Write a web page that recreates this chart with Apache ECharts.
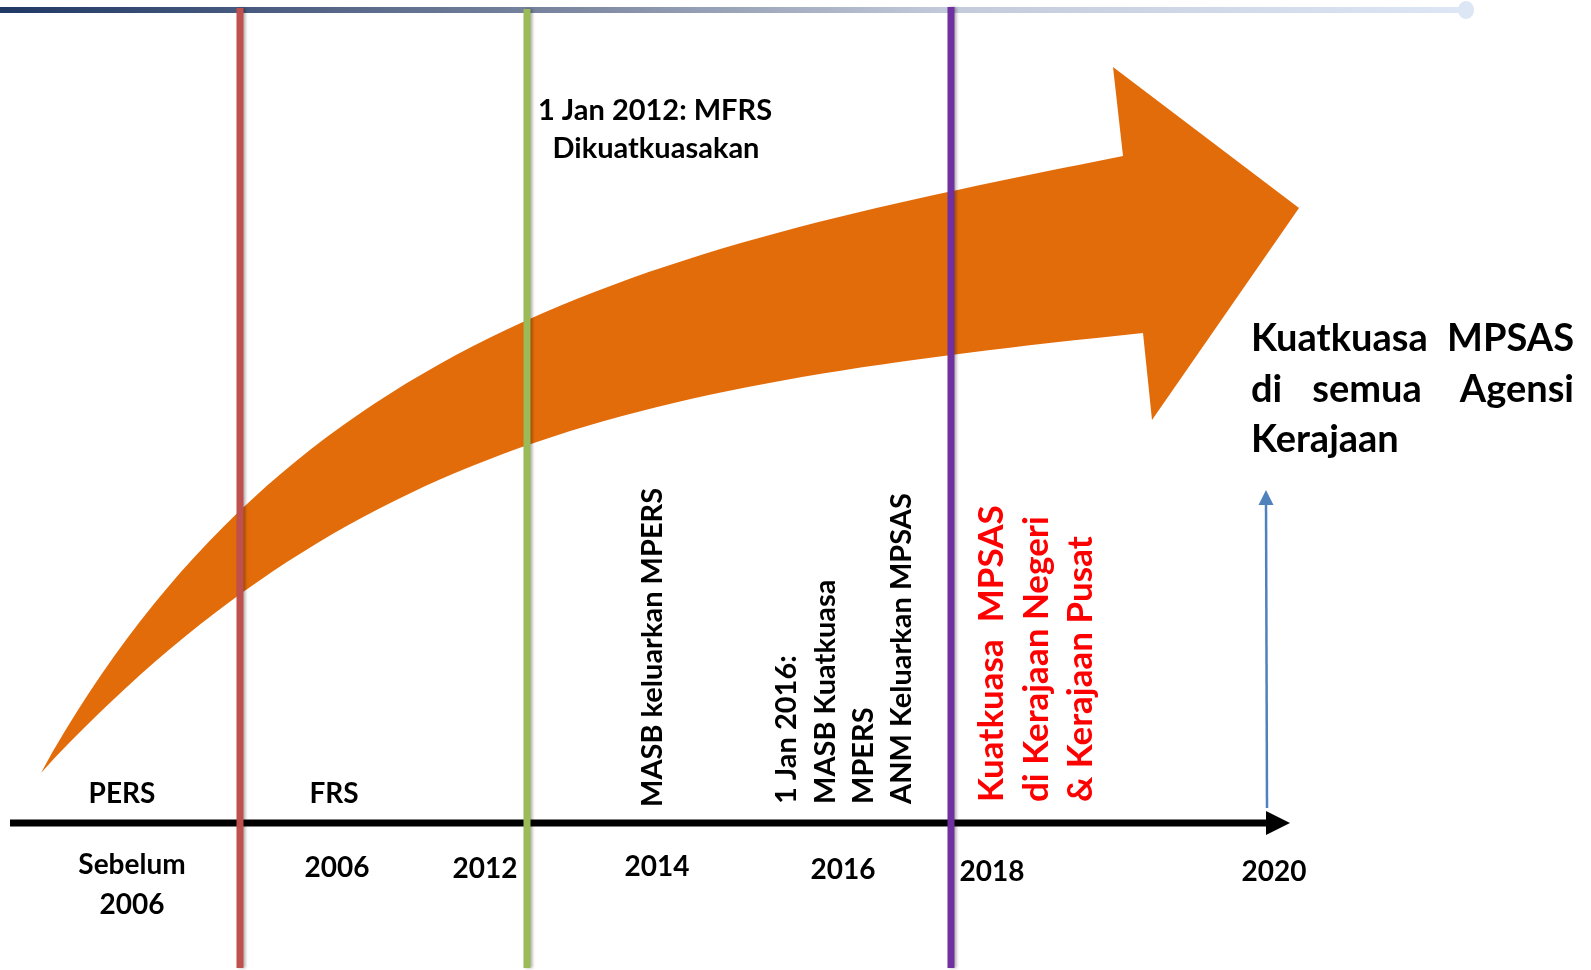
<!DOCTYPE html>
<html>
<head>
<meta charset="utf-8">
<title>Garis masa MPSAS</title>
<script src="https://cdn.jsdelivr.net/npm/echarts@6/dist/echarts.min.js"></script>
<style>
  html, body { margin: 0; padding: 0; background: #fff; }
  #chart { width: 1591px; height: 970px; }
</style>
</head>
<body>
<div id="chart"></div>
<script>
// hidden axes: x = position along the timeline, y = depth from the top edge
const yearLabels = ['Sebelum\n2006', '2006', '2012', '2014', '2016', '2018', '2020']
const yearX = [132, 337, 485, 657, 843, 992, 1274]
const yearY = [885, 868, 869, 867, 870, 872, 872]

const standardLabels = ['PERS', 'FRS']
const standardX = [122, 334]
const standardY = [794, 794]

// era dividers (PERS | FRS, MFRS, MPSAS)
const dividerX = [240, 527, 951]
const dividerTop = [8, 9, 7]
const dividerBottom = [968, 968, 968]
const dividerColors = ['#c0504d', '#9bbb59', '#7030a0']

// time axis arrow
const axisX = [10, 1290]
const axisY = [823, 823]

// target arrow (blue)
const targetX = [1267, 1266]
const targetY = [808, 490]

// orange growth arrow: each edge is one cubic curve (start, handle, handle, end)
const arrowUpperX = [41, 291, 673, 1123]
const arrowUpperY = [773, 323, 246, 156]
const arrowHeadX = [1113, 1299, 1152]
const arrowHeadY = [67, 208, 420]
const arrowLowerX = [1143, 643, 351, 41]
const arrowLowerY = [333, 385, 440, 773]

// events written upright along the timeline
const eventLines = ['MASB keluarkan MPERS', '1 Jan 2016:', 'MASB Kuatkuasa', 'MPERS', 'ANM Keluarkan MPSAS']
const eventX = [653, 787, 826, 864, 902]
const eventY = [807, 804, 804, 804, 804]

const mpsasLines = ['Kuatkuasa  MPSAS', 'di Kerajaan Negeri', '& Kerajaan Pusat']
const mpsasX = [992, 1037, 1081]
const mpsasY = [802, 802, 802]

const mfrsLines = ['1 Jan 2012: MFRS', 'Dikuatkuasakan']
const mfrsX = [655, 656]
const mfrsY = [111, 149]

const goalWords = ['Kuatkuasa', 'MPSAS', 'di', 'semua', 'Agensi', 'Kerajaan']
const goalX = [1251, 1574, 1251, 1367, 1574, 1251]
const goalY = [339, 339, 390, 390, 390, 440]
const goalAlign = ['left', 'right', 'left', 'center', 'right', 'left']

const FONT = 'Lato, "Open Sans", sans-serif'
const chart = echarts.init(document.getElementById('chart'))

function pts (xs, ys, api) {
    return xs.map((x, i) => api.coord([x, ys[i]]))
}

function cubic (p) {
    return ` C ${p[1][0]} ${p[1][1]} ${p[2][0]} ${p[2][1]} ${p[3][0]} ${p[3][1]}`
}

function textSeries (texts, xs, ys, opt) {
    return {
        type: 'custom',
        silent: true,
        z: 20,
        data: xs.map((x, i) => [x, ys[i]]),
        renderItem: (params, api) => {
            const p = api.coord([api.value(0), api.value(1)])
            const i = params.dataIndex
            return {
                type: 'text',
                x: p[0],
                y: p[1],
                rotation: opt.rotate ? Math.PI / 2 : 0,
                style: {
                    text: texts[i],
                    font: `bold ${opt.size}px ${FONT}`,
                    fill: opt.color || '#000',
                    align: opt.align ? (Array.isArray(opt.align) ? opt.align[i] : opt.align) : 'center',
                    verticalAlign: 'middle',
                    lineHeight: opt.lineHeight
                }
            }
        }
    }
}

const option = {
    animation: false,
    backgroundColor: '#fff',
    grid: { left: 0, right: 0, top: 0, bottom: 0 },
    xAxis: { type: 'value', min: 0, max: 1591, show: false },
    yAxis: { type: 'value', min: 0, max: 970, inverse: true, show: false },
    series: [
        // top gradient bar
        {
            type: 'custom',
            silent: true,
            z: 1,
            data: [[0, 10]],
            renderItem: (params, api) => {
                const a = api.coord([0, 7])
                const b = api.coord([1462, 13])
                const c = api.coord([1466, 10])
                return {
                    type: 'group',
                    children: [
                        {
                            type: 'rect',
                            shape: { x: a[0], y: a[1], width: b[0] - a[0], height: b[1] - a[1] },
                            style: {
                                fill: new echarts.graphic.LinearGradient(0, 0, 1, 0, [
                                    { offset: 0, color: '#1f3864' },
                                    { offset: 0.4, color: '#7f8aa3' },
                                    { offset: 0.65, color: '#c3cbdb' },
                                    { offset: 1, color: '#dde6f4' }
                                ])
                            }
                        },
                        { type: 'ellipse', shape: { cx: c[0], cy: c[1], rx: 8, ry: 9 }, style: { fill: '#dde6f4' } }
                    ]
                }
            }
        },
        // orange arrow
        {
            type: 'custom',
            silent: true,
            z: 2,
            data: [[arrowHeadX[1], arrowHeadY[1]]],
            renderItem: (params, api) => {
                const up = pts(arrowUpperX, arrowUpperY, api)
                const head = pts(arrowHeadX, arrowHeadY, api)
                const low = pts(arrowLowerX, arrowLowerY, api)
                let d = `M ${up[0][0]} ${up[0][1]}` + cubic(up)
                head.forEach(h => { d += ` L ${h[0]} ${h[1]}` })
                d += ` L ${low[0][0]} ${low[0][1]}` + cubic(low) + ' Z'
                return { type: 'path', shape: { pathData: d }, style: { fill: '#e36c0a' } }
            }
        },
        // time axis
        {
            type: 'custom',
            silent: true,
            z: 3,
            data: [[axisX[1], axisY[1]]],
            renderItem: (params, api) => {
                const a = api.coord([axisX[0], axisY[0]])
                const b = api.coord([axisX[1], axisY[1]])
                return {
                    type: 'group',
                    children: [
                        { type: 'line', shape: { x1: a[0], y1: a[1], x2: b[0] - 22, y2: b[1] }, style: { stroke: '#000', lineWidth: 7 } },
                        { type: 'polygon', shape: { points: [[b[0] - 24, b[1] - 12], [b[0], b[1]], [b[0] - 24, b[1] + 12]] }, style: { fill: '#000' } }
                    ]
                }
            }
        },
        // target arrow
        {
            type: 'custom',
            silent: true,
            z: 3,
            data: [[targetX[1], targetY[1]]],
            renderItem: (params, api) => {
                const a = api.coord([targetX[0], targetY[0]])
                const b = api.coord([targetX[1], targetY[1]])
                return {
                    type: 'group',
                    children: [
                        { type: 'line', shape: { x1: a[0], y1: a[1], x2: b[0], y2: b[1] + 12 }, style: { stroke: '#4f81bd', lineWidth: 2.5 } },
                        { type: 'polygon', shape: { points: [[b[0] - 7.5, b[1] + 15], [b[0], b[1]], [b[0] + 7.5, b[1] + 15]] }, style: { fill: '#4f81bd' } }
                    ]
                }
            }
        },
        // era dividers
        {
            type: 'custom',
            silent: true,
            z: 5,
            data: dividerX.map((x, i) => [x, dividerTop[i], dividerBottom[i]]),
            renderItem: (params, api) => {
                const a = api.coord([api.value(0), api.value(1)])
                const b = api.coord([api.value(0), api.value(2)])
                return {
                    type: 'line',
                    shape: { x1: a[0], y1: a[1], x2: b[0], y2: b[1] },
                    style: {
                        stroke: dividerColors[params.dataIndex],
                        lineWidth: 7,
                        shadowColor: 'rgba(0,0,0,0.3)',
                        shadowBlur: 3,
                        shadowOffsetX: 2
                    }
                }
            }
        },
        textSeries(yearLabels, yearX, yearY, { size: 28, lineHeight: 40 }),
        textSeries(standardLabels, standardX, standardY, { size: 28 }),
        textSeries(mfrsLines, mfrsX, mfrsY, { size: 29 }),
        textSeries(eventLines, eventX, eventY, { size: 29, rotate: true, align: 'left' }),
        textSeries(mpsasLines, mpsasX, mpsasY, { size: 35, rotate: true, align: 'left', color: '#ff0000' }),
        textSeries(goalWords, goalX, goalY, { size: 38, align: goalAlign })
    ]
}

chart.setOption(option)
</script>
</body>
</html>
